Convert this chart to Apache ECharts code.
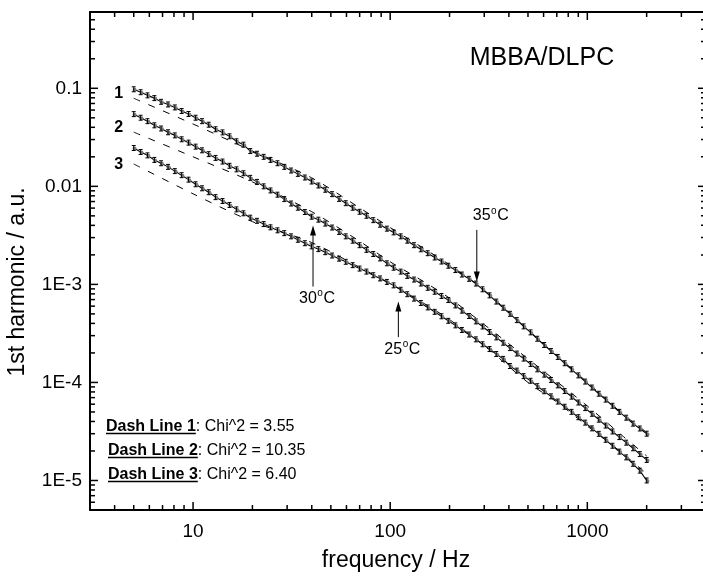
<!DOCTYPE html>
<html lang="en">
<head>
    <meta charset="UTF-8">
    <title>MBBA/DLPC 1st harmonic vs frequency</title>
    <script src="https://cdn.jsdelivr.net/npm/echarts@6/dist/echarts.min.js"></script>
    <style>
        html, body, #main {
            width: 703px;
            height: 577px;
            padding: 0;
            margin: 0;
            background: #fff;
        }
    </style>
</head>
<body>
<div id="main"></div>
<script>
    // measured frequencies (Hz)
    var freq = [5.00, 5.42, 5.87, 6.36, 6.88, 7.46, 8.08, 8.75, 9.48, 10.3,
        11.1, 12.0, 13.0, 14.1, 15.3, 16.6, 18.0, 19.5, 21.1, 22.8,
        24.7, 26.8, 29.0, 31.4, 34.0, 36.9, 39.9, 43.2, 46.8, 50.7,
        55.0, 59.5, 64.5, 69.9, 75.7, 82.0, 88.8, 96.2, 104, 113,
        122, 132, 143, 155, 168, 182, 197, 214, 231, 251,
        272, 294, 319, 345, 374, 405, 439, 475, 515, 557,
        604, 654, 708, 767, 831, 900, 975, 1055, 1143, 1238,
        1341, 1453, 1574, 1704, 1846, 2000];

    // 1st harmonic, curve 1 (35 C)
    var harm35 = [0.0977, 0.0912, 0.0847, 0.0794, 0.0728, 0.0684, 0.0638, 0.0586, 0.0547, 0.0501,
        0.0462, 0.0425, 0.0382, 0.0355, 0.0324, 0.0288, 0.0266, 0.0229, 0.0215, 0.0200,
        0.0186, 0.0172, 0.0158, 0.0145, 0.0134, 0.0123, 0.0112, 0.0102, 9.23e-3, 8.32e-3,
        7.45e-3, 6.73e-3, 6.05e-3, 5.50e-3, 5.01e-3, 4.52e-3, 4.06e-3, 3.70e-3, 3.39e-3, 3.09e-3,
        2.79e-3, 2.51e-3, 2.28e-3, 2.08e-3, 1.88e-3, 1.71e-3, 1.55e-3, 1.40e-3, 1.26e-3, 1.14e-3,
        1.02e-3, 8.91e-4, 7.73e-4, 6.68e-4, 5.78e-4, 5.01e-4, 4.32e-4, 3.73e-4, 3.24e-4, 2.79e-4,
        2.41e-4, 2.09e-4, 1.82e-4, 1.57e-4, 1.36e-4, 1.18e-4, 1.02e-4, 8.87e-5, 7.67e-5, 6.68e-5,
        5.78e-5, 5.01e-5, 4.37e-5, 3.80e-5, 3.39e-5, 3.00e-5];

    // curve 2 (30 C)
    var harm30 = [0.0545, 0.0501, 0.0462, 0.0419, 0.0389, 0.0356, 0.0331, 0.0302, 0.0279, 0.0254,
        0.0233, 0.0213, 0.0195, 0.0179, 0.0162, 0.0149, 0.0136, 0.0122, 0.0111, 0.0100,
        9.08e-3, 8.22e-3, 7.41e-3, 6.68e-3, 6.05e-3, 5.47e-3, 4.90e-3, 4.57e-3, 4.17e-3, 3.80e-3,
        3.43e-3, 3.09e-3, 2.79e-3, 2.51e-3, 2.25e-3, 2.04e-3, 1.84e-3, 1.64e-3, 1.48e-3, 1.35e-3,
        1.22e-3, 1.12e-3, 1.02e-3, 9.23e-4, 8.41e-4, 7.62e-4, 6.92e-4, 6.10e-4, 5.40e-4, 4.76e-4,
        4.19e-4, 3.72e-4, 3.27e-4, 2.88e-4, 2.54e-4, 2.24e-4, 1.97e-4, 1.75e-4, 1.54e-4, 1.36e-4,
        1.20e-4, 1.06e-4, 9.33e-5, 8.17e-5, 7.16e-5, 6.24e-5, 5.47e-5, 4.79e-5, 4.17e-5, 3.63e-5,
        3.16e-5, 2.77e-5, 2.43e-5, 2.13e-5, 1.86e-5, 1.62e-5];

    // curve 3 (25 C)
    var harm25 = [0.0246, 0.0224, 0.0207, 0.0186, 0.0172, 0.0158, 0.0143, 0.0130, 0.0117, 0.0105,
        9.55e-3, 8.71e-3, 7.76e-3, 7.08e-3, 6.46e-3, 5.82e-3, 5.31e-3, 4.79e-3, 4.45e-3, 4.12e-3,
        3.82e-3, 3.56e-3, 3.33e-3, 3.09e-3, 2.85e-3, 2.63e-3, 2.44e-3, 2.29e-3, 2.13e-3, 1.97e-3,
        1.83e-3, 1.70e-3, 1.57e-3, 1.45e-3, 1.35e-3, 1.24e-3, 1.15e-3, 1.06e-3, 9.77e-4, 8.81e-4,
        7.94e-4, 7.16e-4, 6.46e-4, 5.82e-4, 5.25e-4, 4.73e-4, 4.25e-4, 3.82e-4, 3.43e-4, 3.08e-4,
        2.75e-4, 2.45e-4, 2.19e-4, 1.95e-4, 1.74e-4, 1.47e-4, 1.32e-4, 1.16e-4, 1.04e-4, 9.16e-5,
        8.13e-5, 7.21e-5, 6.38e-5, 5.65e-5, 5.01e-5, 4.42e-5, 3.89e-5, 3.40e-5, 2.99e-5, 2.60e-5,
        2.26e-5, 1.97e-5, 1.72e-5, 1.48e-5, 1.26e-5, 1.00e-5];

    // relative error bar half size
    var errFrac = 0.06;

    // dashed fit lines
    var fitFreq = [5, 10, 20, 40, 70, 100, 150, 200, 300, 500, 700, 1000, 1500, 2000];
    var fit1 = [7.91e-2, 4.32e-2, 2.29e-2, 1.22e-2, 6.03e-3, 3.80e-3, 2.29e-3, 1.58e-3, 8.71e-4, 3.43e-4, 1.88e-4, 1.00e-4, 4.84e-5, 3.09e-5];
    var fit2 = [3.57e-2, 2.00e-2, 1.11e-2, 5.51e-3, 2.75e-3, 1.70e-3, 1.05e-3, 7.24e-4, 3.89e-4, 1.74e-4, 1.02e-4, 5.75e-5, 2.88e-5, 1.78e-5];
    var fit3 = [1.69e-2, 8.39e-3, 4.37e-3, 2.67e-3, 1.49e-3, 1.02e-3, 6.31e-4, 4.37e-4, 2.37e-4, 1.00e-4, 6.31e-5, 3.59e-5, 1.91e-5, 1.17e-5];
    var fitChi = ["3.55", "10.35", "6.40"];

    // curve numbers placed left of the curves
    var curveNums = ["1", "2", "3"];
    var curveNumFreq = 4.2;
    var curveNumVal = [0.089, 0.0393, 0.0165];

    // temperature arrows
    var tempText = ["35", "30", "25"];
    var arrowFreq = [275, 40.6, 110];
    var arrowFrom = [3.6e-3, 9.5e-4, 2.9e-4];
    var arrowTo = [1.07e-3, 3.98e-3, 6.71e-4];

    // ticks
    var xMajor = [10, 100, 1000];
    var xMinor = [4, 5, 6, 7, 8, 9, 20, 30, 40, 50, 60, 70, 80, 90,
        200, 300, 400, 500, 600, 700, 800, 900, 2000, 3000];
    var yMajor = [1e-5, 1e-4, 1e-3, 1e-2, 1e-1];
    var yMinor = [6e-6, 7e-6, 8e-6, 9e-6,
        2e-5, 3e-5, 4e-5, 5e-5, 6e-5, 7e-5, 8e-5, 9e-5,
        2e-4, 3e-4, 4e-4, 5e-4, 6e-4, 7e-4, 8e-4, 9e-4,
        2e-3, 3e-3, 4e-3, 5e-3, 6e-3, 7e-3, 8e-3, 9e-3,
        0.02, 0.03, 0.04, 0.05, 0.06, 0.07, 0.08, 0.09,
        0.2, 0.3, 0.4, 0.5];

    var FONT = "Liberation Sans, Arial, sans-serif";

    function pairs(xs, ys) {
        return xs.map(function (x, i) {
            return [x, ys[i]];
        });
    }

    function decade(v) {
        var p = Math.log(v) / Math.LN10;
        var r = Math.round(p);
        return Math.abs(p - r) < 1e-6 ? r : null;
    }

    function errorBarItem(params, api) {
        var f = api.value(0), v = api.value(1);
        var c = api.coord([f, v]);
        var hi = api.coord([f, v * (1 + errFrac)]);
        var lo = api.coord([f, v / (1 + errFrac)]);
        var hw = 2;
        var st = {stroke: "#000", lineWidth: 1};
        return {
            type: "group",
            children: [
                {type: "circle", shape: {cx: c[0] + 0.8, cy: c[1] + 0.5, r: 2}, style: {fill: "#7a7a7a"}},
                {type: "line", shape: {x1: c[0], y1: hi[1], x2: c[0], y2: lo[1]}, style: st},
                {type: "line", shape: {x1: c[0] - hw, y1: hi[1], x2: c[0] + hw, y2: hi[1]}, style: st},
                {type: "line", shape: {x1: c[0] - hw, y1: lo[1], x2: c[0] + hw, y2: lo[1]}, style: st}
            ]
        };
    }

    var tickData = [];
    xMajor.forEach(function (v) { tickData.push([v, 1e-3, 0, 1]); });
    xMinor.forEach(function (v) { tickData.push([v, 1e-3, 0, 0]); });
    yMajor.forEach(function (v) { tickData.push([10, v, 1, 1]); });
    yMinor.forEach(function (v) { tickData.push([10, v, 1, 0]); });

    function tickItem(params, api) {
        var r = params.coordSys;
        var len = api.value(3) === 1 ? 8 : 5;
        var p = api.coord([api.value(0), api.value(1)]);
        var st = {stroke: "#000", lineWidth: 1.5};
        var ch;
        if (api.value(2) === 0) {
            ch = [
                {type: "line", shape: {x1: p[0], y1: r.y + r.height, x2: p[0], y2: r.y + r.height - len}, style: st},
                {type: "line", shape: {x1: p[0], y1: r.y, x2: p[0], y2: r.y + len}, style: st}
            ];
        } else {
            ch = [
                {type: "line", shape: {x1: r.x, y1: p[1], x2: r.x + len, y2: p[1]}, style: st},
                {type: "line", shape: {x1: r.x + r.width, y1: p[1], x2: r.x + r.width - len, y2: p[1]}, style: st}
            ];
        }
        return {type: "group", children: ch};
    }

    var axisLine = {show: true, onZero: false, lineStyle: {color: "#000", width: 2}};

    var dataSets = [harm35, harm30, harm25];
    var fits = [fit1, fit2, fit3];
    var series = [];
    dataSets.forEach(function (vals) {
        series.push({
            type: "line",
            data: pairs(freq, vals),
            showSymbol: false,
            lineStyle: {color: "#000", width: 1.1},
            z: 3
        });
    });
    fits.forEach(function (vals) {
        series.push({
            type: "line",
            data: pairs(fitFreq, vals),
            showSymbol: false,
            smooth: 0.3,
            lineStyle: {color: "#000", width: 1, type: [7, 9]},
            z: 2
        });
    });
    dataSets.forEach(function (vals) {
        series.push({
            type: "custom",
            data: pairs(freq, vals),
            renderItem: errorBarItem,
            z: 4
        });
    });
    series.push({
        type: "custom",
        data: tickData,
        renderItem: tickItem,
        clip: false,
        silent: true,
        z: 10
    });

    var myChart = echarts.init(document.getElementById("main"), null, {renderer: "canvas"});

    myChart.setOption({
        animation: false,
        backgroundColor: "#fff",
        grid: {
            left: 90,
            top: 12,
            width: 616,
            height: 498,
            containLabel: false,
            outerBoundsMode: "none"
        },
        xAxis: [{
            type: "log",
            logBase: 10,
            min: 3,
            max: 4000,
            position: "bottom",
            axisLine: axisLine,
            axisTick: {show: false},
            splitLine: {show: false},
            axisLabel: {
                color: "#000",
                fontFamily: FONT,
                fontSize: 19,
                margin: 12,
                formatter: function (v) {
                    var d = decade(v);
                    return d === null ? "" : String(Math.pow(10, d));
                }
            }
        }, {
            type: "log",
            logBase: 10,
            min: 3,
            max: 4000,
            position: "top",
            axisLine: axisLine,
            axisTick: {show: false},
            axisLabel: {show: false},
            splitLine: {show: false}
        }],
        yAxis: [{
            type: "log",
            logBase: 10,
            min: 5e-6,
            max: 0.6,
            position: "left",
            axisLine: axisLine,
            axisTick: {show: false},
            splitLine: {show: false},
            axisLabel: {
                color: "#000",
                fontFamily: FONT,
                fontSize: 19,
                margin: 8,
                formatter: function (v) {
                    var d = decade(v);
                    if (d === null) return "";
                    if (d === -1) return "0.1";
                    if (d === -2) return "0.01";
                    return "1E" + d;
                }
            }
        }, {
            type: "log",
            logBase: 10,
            min: 5e-6,
            max: 0.6,
            position: "right",
            axisLine: axisLine,
            axisTick: {show: false},
            axisLabel: {show: false},
            splitLine: {show: false}
        }],
        series: series
    });

    // annotations placed through the data coordinates
    function px(f, v) {
        return myChart.convertToPixel({seriesIndex: 0}, [f, v]);
    }

    var measure = document.createElement("canvas").getContext("2d");
    function textWidth(str, font) {
        measure.font = font;
        return measure.measureText(str).width;
    }

    function plainText(x, y, str, font, align) {
        return {
            type: "text",
            x: x, y: y,
            style: {text: str, font: font, fill: "#000", align: align || "left", verticalAlign: "middle"}
        };
    }

    var graphics = [];

    graphics.push(plainText(542, 58, "MBBA/DLPC", "25px " + FONT, "center"));
    graphics.push(plainText(396, 561, "frequency / Hz", "23px " + FONT, "center"));
    var yTitle = plainText(18, 282, "1st harmonic / a.u.", "23px " + FONT, "center");
    yTitle.rotation = Math.PI / 2;
    graphics.push(yTitle);

    curveNums.forEach(function (t, i) {
        var p = px(curveNumFreq, curveNumVal[i]);
        graphics.push(plainText(p[0], p[1], t, "bold 16px " + FONT, "center"));
    });

    var tFont = "16px " + FONT;
    var supFont = "10px " + FONT;
    tempText.forEach(function (t, i) {
        var a = px(arrowFreq[i], arrowFrom[i]);
        var b = px(arrowFreq[i], arrowTo[i]);
        var dir = b[1] > a[1] ? 1 : -1;
        graphics.push({
            type: "line",
            shape: {x1: a[0], y1: a[1], x2: b[0], y2: b[1] - dir * 8},
            style: {stroke: "#000", lineWidth: 1}
        });
        graphics.push({
            type: "polygon",
            shape: {points: [[b[0], b[1]], [b[0] - 3, b[1] - dir * 10], [b[0] + 3, b[1] - dir * 10]]},
            style: {fill: "#000"}
        });
        var lx = i === 0 ? a[0] - 4 : a[0] - 14;
        var ly = dir === 1 ? a[1] - 14 : a[1] + 12;
        var w1 = textWidth(t, tFont);
        var w2 = textWidth("o", supFont);
        graphics.push(plainText(lx, ly, t, tFont));
        graphics.push(plainText(lx + w1 + 0.5, ly - 5, "o", supFont));
        graphics.push(plainText(lx + w1 + w2 + 1, ly, "C", tFont));
    });

    var legendX = [106, 108, 108];
    var legendY = [427, 451, 475];
    fitChi.forEach(function (chi, i) {
        var label = "Dash Line " + (i + 1);
        var boldFont = "bold 16px " + FONT;
        var w = textWidth(label, boldFont);
        graphics.push(plainText(legendX[i], legendY[i], label, boldFont));
        graphics.push({
            type: "line",
            shape: {x1: legendX[i], y1: legendY[i] + 6.5, x2: legendX[i] + w, y2: legendY[i] + 6.5},
            style: {stroke: "#000", lineWidth: 1.5}
        });
        graphics.push(plainText(legendX[i] + w, legendY[i], ": Chi^2 = " + chi, "16px " + FONT));
    });

    myChart.setOption({graphic: graphics});
</script>
</body>
</html>
